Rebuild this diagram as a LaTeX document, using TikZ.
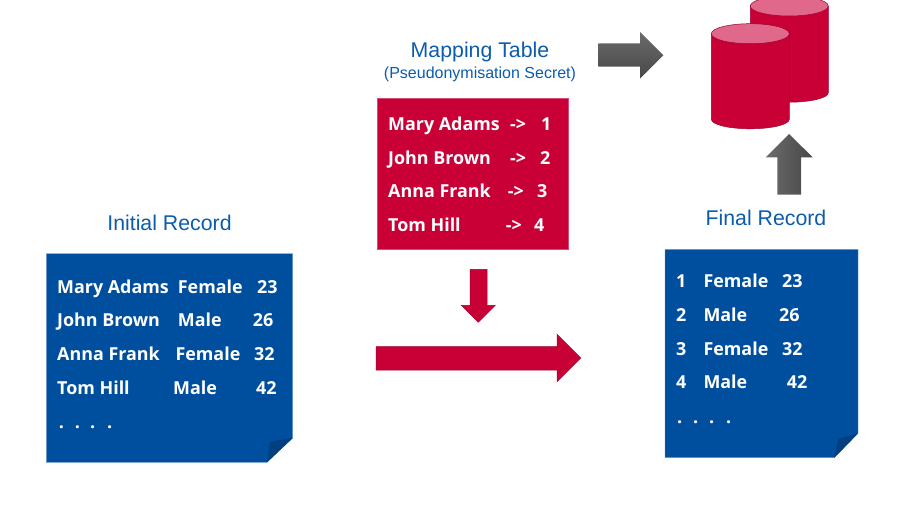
\documentclass[tikz,border=0pt]{standalone}
\usepackage{fontspec}
\setmainfont{Liberation Sans}
\newfontfamily\handfont{Open Sans}
\definecolor{recblue}{HTML}{004F9F}
\definecolor{recfold}{HTML}{003F80}
\definecolor{recedge}{HTML}{6F9BC8}
\definecolor{secred}{HTML}{C80036}
\definecolor{secedge}{HTML}{A0002E}
\definecolor{secpink}{HTML}{E0688A}
\definecolor{titleblue}{HTML}{0B5CAD}
\tikzset{
  x=1pt,y=-1pt,
  title/.style={text=titleblue,inner sep=0pt,font=\fontsize{21.3}{23}\selectfont},
  subtitle/.style={text=titleblue,inner sep=0pt,font=\fontsize{16}{18}\selectfont},
  cell/.style={text=white,inner sep=0pt,anchor=base west,font=\handfont\bfseries\fontsize{17.9}{20}\selectfont},
  note/.style={fill=recblue,draw=recedge,line width=0.4pt},
  fold/.style={fill=recfold},
  redshape/.style={fill=secred,draw=secedge,line width=0.5pt},
  lid/.style={fill=secpink,draw=secedge,line width=0.5pt},
  grayh/.style={top color=black!58,bottom color=black!72},
  grayv/.style={left color=black!58,right color=black!72},
}
\begin{document}
\begin{tikzpicture}
\useasboundingbox (0,0) rectangle (905,506);
% back cylinder
\path[redshape] (750.3,6) -- (750.3,92.7) arc[start angle=180,end angle=0,x radius=39,y radius=9.5] -- (828.3,6) -- cycle;
\path[lid] (789.3,6) ellipse[x radius=39,y radius=10];
% front cylinder
\path[redshape] (711.3,33.7) -- (711.3,119.3) arc[start angle=180,end angle=0,x radius=39,y radius=9.5] -- (789.3,33.7) -- cycle;
\path[lid] (750.3,33.7) ellipse[x radius=39,y radius=10];
% gray block arrows
\path[grayh] (598.3,43.3) -- (640,43.3) -- (640,32) -- (663.3,55.3) -- (640,78.7) -- (640,66.7) -- (598.3,66.7) -- cycle;
\path[grayv] (777.3,194.7) -- (777.3,157.3) -- (765.7,157.3) -- (789,134) -- (812.7,157.3) -- (801,157.3) -- (801,194.7) -- cycle;
% red shapes
\node[redshape,draw=secred!70!white,minimum width=190.8pt,minimum height=151pt,inner sep=0pt] (mapbox) at (472.4,173.5) {};
\path[redshape] (470,269.3) -- (487,269.3) -- (487,305.3) -- (495.3,305.3) -- (478.3,322.3) -- (461.3,305.3) -- (470,305.3) -- cycle;
\path[redshape] (376,346.7) -- (557,346.7) -- (557,334.3) -- (580.7,358) -- (557,381.7) -- (557,370) -- (376,370) -- cycle;
% notes
\path[note] (46.3,253.7) -- (292.7,253.7) -- (292.7,438) -- (267,462.3) -- (46.3,462.3) -- cycle;
\path[fold] (267,462.3) -- (270,441.7) -- (292.7,438) -- cycle;
\path[note] (665,249.3) -- (858,249.3) -- (858,433.3) -- (834.3,457.7) -- (665,457.7) -- cycle;
\path[fold] (834.3,457.7) -- (838.3,438.7) -- (858,433.3) -- cycle;
% titles
\node[title] (maptitle) at (480,51.5) {Mapping Table};
\node[subtitle] (mapsub) at (480,74) {(Pseudonymisation Secret)};
\node[title] (inittitle) at (169.5,223) {Initial Record};
\node[title] (finaltitle) at (766,218) {Final Record};
% initial record
\foreach \px/\py/\txt [count=\n] in {
  57/293.2/Mary Adams,177.7/293.2/Female,257/293.2/23,
  57/326.5/John Brown,177.7/326.5/Male,252.7/326.5/26,
  57/360.3/Anna Frank,175.3/360.3/Female,254/360.3/32,
  57/394/Tom Hill,173/394/Male,256/394/42,
  58.7/428/.,74.7/428/.,90/428/.,107/428/.}
  \node[cell] (init\n) at (\px,\py) {\txt};
% mapping table
\foreach \px/\py/\txt [count=\n] in {
  388/130.5/Mary Adams,510/130.5/->,541/130.5/1,
  388/164/John Brown,510/164/->,540/164/2,
  388/197.5/Anna Frank,507.7/197.5/->,537/197.5/3,
  388/231/Tom Hill,505.7/231/->,534/231/4}
  \node[cell] (map\n) at (\px,\py) {\txt};
% final record
\foreach \px/\py/\txt [count=\n] in {
  676/287.2/1,703.3/287.2/Female,782/287.2/23,
  676/321.2/2,703.3/321.2/Male,779/321.2/26,
  676/355/3,703.3/355/Female,782/355/32,
  676/388/4,703.3/388/Male,786.7/388/42,
  677/423.5/.,693/423.5/.,709/423.5/.,726/423.5/.}
  \node[cell] (final\n) at (\px,\py) {\txt};
\end{tikzpicture}
\end{document}
